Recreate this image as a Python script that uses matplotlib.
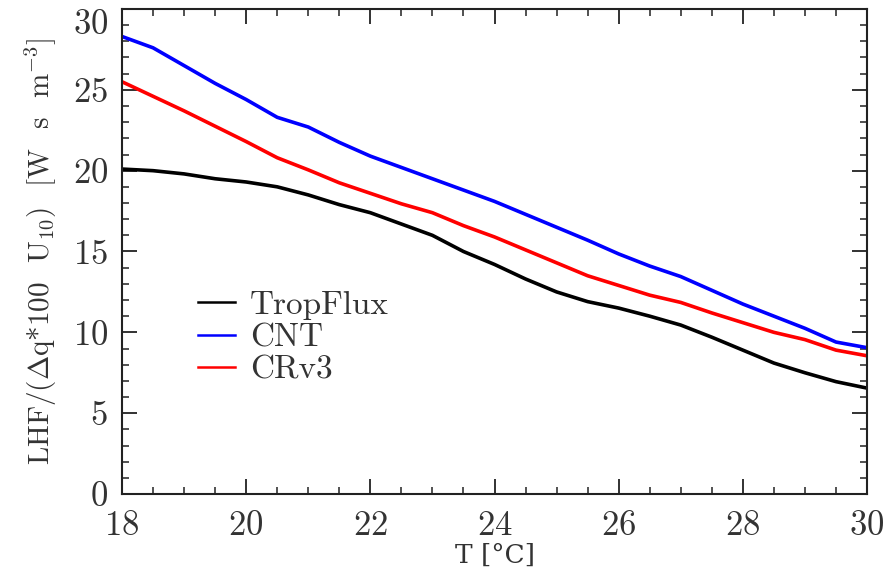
import matplotlib
matplotlib.use("Agg")
import matplotlib.pyplot as plt
from matplotlib.ticker import MultipleLocator

temperature = [18, 18.5, 19, 19.5, 20, 20.5, 21, 21.5, 22, 22.5, 23, 23.5, 24,
               24.5, 25, 25.5, 26, 26.5, 27, 27.5, 28, 28.5, 29, 29.5, 30]
tropflux = [20.1, 20.0, 19.8, 19.5, 19.3, 19.0, 18.5, 17.9, 17.4, 16.7, 16.0, 15.0, 14.2,
            13.3, 12.5, 11.9, 11.5, 11.0, 10.45, 9.7, 8.9, 8.1, 7.5, 6.95, 6.55]
cnt = [28.3, 27.6, 26.5, 25.4, 24.4, 23.3, 22.7, 21.75, 20.9, 20.2, 19.5, 18.8, 18.1,
       17.3, 16.5, 15.7, 14.85, 14.1, 13.45, 12.6, 11.75, 11.0, 10.25, 9.4, 9.05]
crv3 = [25.5, 24.6, 23.7, 22.75, 21.8, 20.8, 20.05, 19.25, 18.6, 17.95, 17.4, 16.6, 15.9,
        15.1, 14.3, 13.5, 12.9, 12.3, 11.85, 11.2, 10.6, 10.0, 9.55, 8.9, 8.55]

series_names = ["TropFlux", "CNT", "CRv3"]
series_colors = ["black", "#0000ff", "#ff0000"]

plt.rcParams['font.family'] = ['cmr10', 'DejaVu Serif']
plt.rcParams['mathtext.fontset'] = 'cm'
plt.rcParams['axes.formatter.use_mathtext'] = True

txt = '#333333'
fig = plt.figure(figsize=(8.88, 5.77), dpi=100)
ax = fig.add_axes([122/888, 83/577, 745/888, 485/577])

for vals, name, col in zip([tropflux, cnt, crv3], series_names, series_colors):
    ax.plot(temperature, vals, color=col, lw=2.6, label=name)

ax.set_xlim(18, 30)
ax.set_ylim(0, 30)
ax.xaxis.set_major_locator(MultipleLocator(2))
ax.xaxis.set_minor_locator(MultipleLocator(0.5))
ax.yaxis.set_major_locator(MultipleLocator(5))
ax.yaxis.set_minor_locator(MultipleLocator(1))
ax.tick_params(which='both', direction='in', top=True, right=True, labelsize=25,
               colors='#222222', labelcolor=txt)
ax.tick_params(which='major', length=11, width=1.3)
ax.tick_params(axis='x', which='major', pad=12)
ax.tick_params(axis='y', which='major', pad=10)
ax.tick_params(which='minor', length=5, width=1.1)
for s in ax.spines.values():
    s.set_linewidth(1.5)
    s.set_color('#222222')

ax.set_xlabel('T [°C]', fontsize=19, labelpad=0, color=txt,
              family=['DejaVu Serif'])
ax.set_ylabel(r'LHF/($\Delta$q*100  U$_{10}$)  [W  s  m$^{-3}$]', fontsize=21,
              labelpad=10, color=txt)

leg = ax.legend(loc='upper left', bbox_to_anchor=(0.062, 0.482), frameon=False,
                fontsize=24, handlelength=1.1, handletextpad=0.45, labelspacing=0.1,
                labelcolor=txt)
for h in leg.legend_handles:
    h.set_linewidth(1.8)

fig.canvas.draw()
for tick in ax.yaxis.get_major_ticks():
    loc = tick.get_loc()
    if abs(loc - 30) < 1e-6:
        tick.label1.set_verticalalignment('top')
    elif abs(loc) < 1e-6:
        tick.label1.set_verticalalignment('center_baseline')

fig.savefig("out.png", dpi=100)
